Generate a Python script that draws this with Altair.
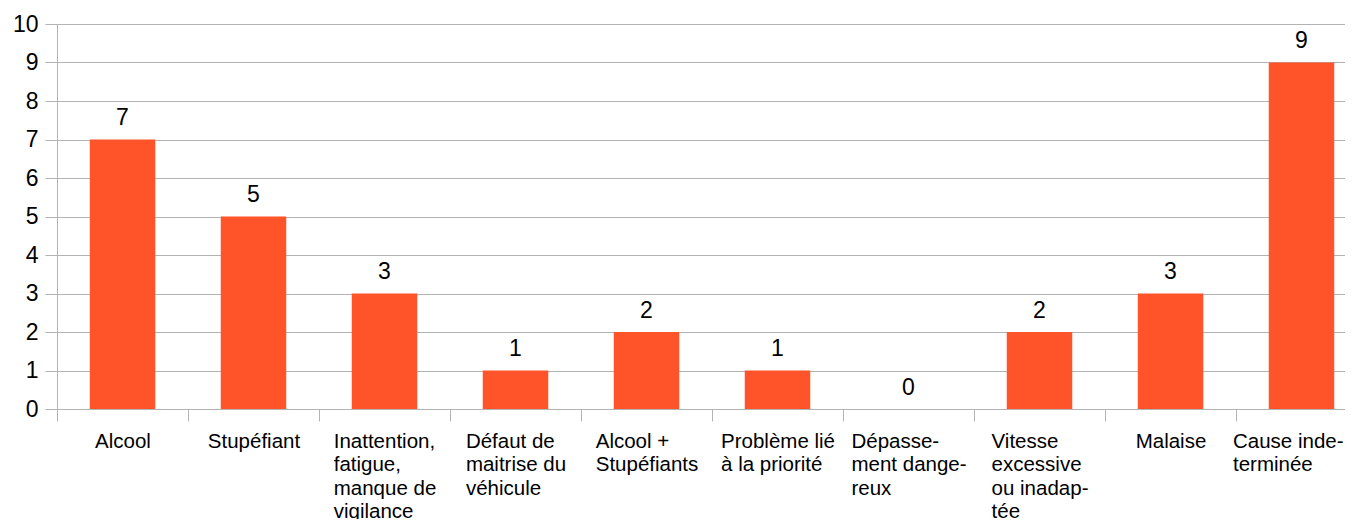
import json
import altair as alt
import pandas as pd

# ---- data ----
categories = [
    "Alcool",
    "Stupéfiant",
    "Inattention,\nfatigue,\nmanque de\nvigilance",
    "Défaut de\nmaitrise du\nvéhicule",
    "Alcool +\nStupéfiants",
    "Problème lié\nà la priorité",
    "Dépasse-\nment dange-\nreux",
    "Vitesse\nexcessive\nou inadap-\ntée",
    "Malaise",
    "Cause inde-\nterminée",
]
values = [7, 5, 3, 1, 2, 1, 0, 2, 3, 9]
y_ticks = list(range(0, 11))

df = pd.DataFrame({"cause": categories, "n": values})

# ---- style ----
FONT = "Liberation Sans"
BAR = "#ff5429"
GRID = "#b3b3b3"
XLAB_SIZE = 20.5
PLOT_W = 1288          # visible plot width
RANGE_W = 1310         # band range (last band runs past the window edge)
STEP = RANGE_W / len(categories)

# approximate Arial/Liberation Sans advance widths (per 1000 em)
W = {" ": 278, ",": 278, "-": 333, ".": 278, "+": 584,
     "A": 667, "C": 722, "D": 722, "I": 278, "M": 833, "P": 667, "S": 667, "V": 667,
     "a": 556, "b": 556, "c": 500, "d": 556, "e": 556, "f": 278, "g": 556, "h": 556,
     "i": 222, "l": 222, "m": 833, "n": 556, "o": 556, "p": 556, "q": 556, "r": 333,
     "s": 500, "t": 278, "u": 556, "v": 500, "x": 500, "y": 500,
     "é": 556, "è": 556, "à": 556}


def block_width(label):
    return max(sum(W.get(ch, 556) for ch in line) for line in label.split("\n")) * XLAB_SIZE / 1000


def label_offset(i, label):
    w = block_width(label)
    center = (i + 0.5) * STEP
    # centred block, but kept inside the visible area
    return min(-w / 2, PLOT_W - 2 - center - w)


# left-aligned lines, block centred under each bar
offset_conditions = [
    {"test": f"datum.value == {json.dumps(c, ensure_ascii=False)}", "value": label_offset(i, c)}
    for i, c in enumerate(categories)
]

x_scale = alt.Scale(paddingInner=0, paddingOuter=0, range=[0, RANGE_W])

x_enc = alt.X(
    "cause:N",
    sort=categories,
    scale=x_scale,
    axis=alt.Axis(
        title=None,
        labelAngle=0,
        labelExpr="split(datum.label, '\\n')",
        labelFont=FONT,
        labelFontSize=XLAB_SIZE,
        labelLineHeight=23.6,
        labelColor="#000000",
        labelAlign="left",
        labelBaseline="alphabetic",
        labelPadding=26,
        labelOffset={"condition": offset_conditions, "value": 0},
        labelOverlap=False,
        labelLimit=400,
        labelBound=False,
        tickBand="extent",
        tickSize=12,
        tickColor=GRID,
        domainColor=GRID,
        grid=False,
    ),
)

y_enc = alt.Y(
    "n:Q",
    scale=alt.Scale(domain=[0, 10], nice=False),
    axis=alt.Axis(
        title=None,
        values=y_ticks,
        tickCount=len(y_ticks),
        labelOverlap=False,
        labelFont=FONT,
        labelFontSize=23,
        labelColor="#000000",
        labelPadding=7,
        tickSize=12,
        tickColor=GRID,
        domainColor=GRID,
        gridColor=GRID,
    ),
)

bars = alt.Chart(df).mark_bar(color=BAR, width=alt.RelativeBandSize(0.5)).encode(x=x_enc, y=y_enc)

labels = alt.Chart(df).mark_text(
    font=FONT, fontSize=23, color="#000000", baseline="alphabetic", align="center", dy=-14.5
).encode(x=x_enc, y=y_enc, text="n:Q")

chart = (
    alt.layer(bars, labels)
    .properties(
        width=PLOT_W,
        height=385,
        background="white",
        autosize=alt.AutoSizeParams(type="none"),
        padding={"left": 49, "top": 16, "right": 0, "bottom": 110},
    )
    .configure_view(stroke=None)
)

chart.save("out.html", embed_options={"renderer": "svg", "actions": False})
